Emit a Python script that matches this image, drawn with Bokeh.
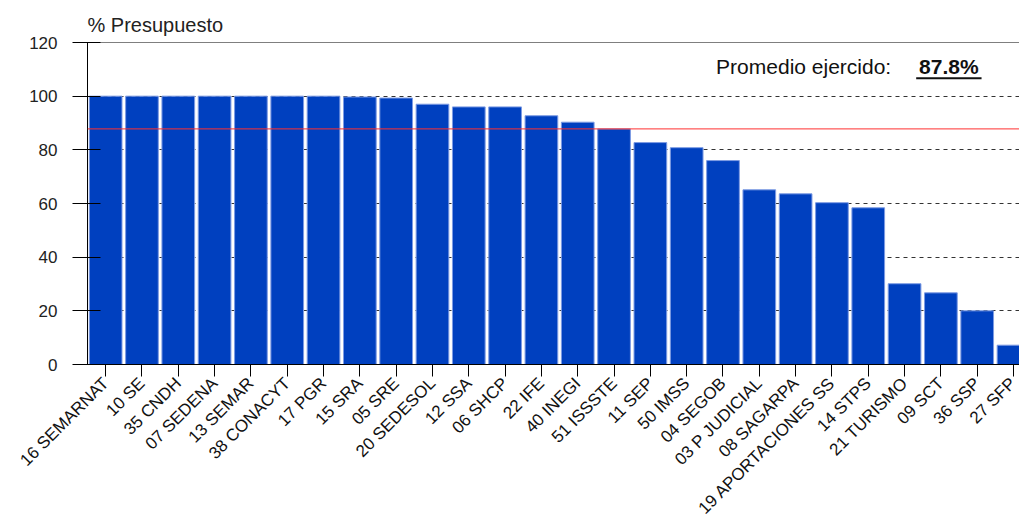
from math import pi
from bokeh.plotting import figure
from bokeh.models import Range1d, FixedTicker, Span, Label, ColumnDataSource
from bokeh.embed import file_html
from bokeh.resources import INLINE

categories = ["16 SEMARNAT", "10 SE", "35 CNDH", "07 SEDENA", "13 SEMAR", "38 CONACYT",
              "17 PGR", "15 SRA", "05 SRE", "20 SEDESOL", "12 SSA", "06 SHCP", "22 IFE",
              "40 INEGI", "51 ISSSTE", "11 SEP", "50 IMSS", "04 SEGOB", "03 P JUDICIAL",
              "08 SAGARPA", "19 APORTACIONES SS", "14 STPS", "21 TURISMO", "09 SCT",
              "36 SSP", "27 SFP"]
values = [100, 100, 100, 100, 100, 100, 100, 99.7, 99.3, 97.0, 96.0, 96.0, 92.7,
          90.3, 87.8, 82.7, 80.8, 76.0, 65.1, 63.6, 60.3, 58.4, 30.1, 26.7, 20.0, 7.2]
y_ticks = [0, 20, 40, 60, 80, 100, 120]
promedio = 87.8
promedio_label = "87.8%"

FONT = "Liberation Sans"
positions = list(range(len(categories)))
src = ColumnDataSource(dict(x=positions, top=values, name=categories))

p = figure(width=1019, height=529, output_backend="svg", toolbar_location=None,
           x_range=Range1d(-0.5, 25.165), y_range=Range1d(0, 120),
           min_border_left=87, min_border_right=0, min_border_top=42,
           min_border_bottom=165, background_fill_color="white",
           border_fill_color="white", outline_line_color=None)

p.title.text = "% Presupuesto"
p.title.text_font = FONT
p.title.text_font_size = "20px"
p.title.text_font_style = "normal"
p.title.text_color = "#222222"
p.title.align = "left"
p.title.offset = 0
p.title.standoff = 13

p.vbar(x="x", top="top", width=0.9, source=src, fill_color="#0040BF",
       line_color="#7D9BE3", line_width=1)

# axes
p.yaxis.ticker = FixedTicker(ticks=y_ticks)
p.yaxis.major_tick_out = 15
p.yaxis.major_tick_in = 13
p.yaxis.minor_tick_line_color = None
p.yaxis.axis_line_color = "black"
p.yaxis.major_tick_line_color = "black"
p.yaxis.major_label_standoff = 15
p.yaxis.major_label_text_font = FONT
p.yaxis.major_label_text_font_size = "17px"
p.yaxis.major_label_text_color = "#222222"

p.xaxis.ticker = FixedTicker(ticks=positions)
p.xaxis.major_label_overrides = {i: c for i, c in zip(positions, categories)}
p.xaxis.major_label_orientation = pi / 4
p.xaxis.major_tick_out = 12
p.xaxis.major_tick_in = 0
p.xaxis.minor_tick_line_color = None
p.xaxis.axis_line_color = "black"
p.xaxis.major_tick_line_color = "black"
p.xaxis.major_label_standoff = 4
p.xaxis.major_label_text_font = FONT
p.xaxis.major_label_text_font_size = "17px"
p.xaxis.major_label_text_color = "#111111"

p.xgrid.visible = False
p.ygrid.ticker = FixedTicker(ticks=y_ticks)
p.ygrid.grid_line_color = "#333333"
p.ygrid.grid_line_dash = "4 4"
p.ygrid.grid_line_width = 1

# top border
p.add_layout(Span(location=120, dimension="width", line_color="black", line_width=1))
# average line
p.add_layout(Span(location=promedio, dimension="width", line_color="#FF3030", line_width=1))

p.add_layout(Label(x=16.81, y=111.0, text="Promedio ejercido:", text_font=FONT,
                   text_font_size="21px", text_color="#111111",
                   text_baseline="middle"))
p.add_layout(Label(x=22.40, y=111.0, text=promedio_label, text_font=FONT,
                   text_font_size="21px", text_font_style="bold", text_color="#111111",
                   text_baseline="middle"))
p.segment(x0=[22.32], y0=[106.7], x1=[24.12], y1=[106.7], line_color="#111111",
          line_width=2)

open("out.html", "w").write(file_html(p, INLINE))
